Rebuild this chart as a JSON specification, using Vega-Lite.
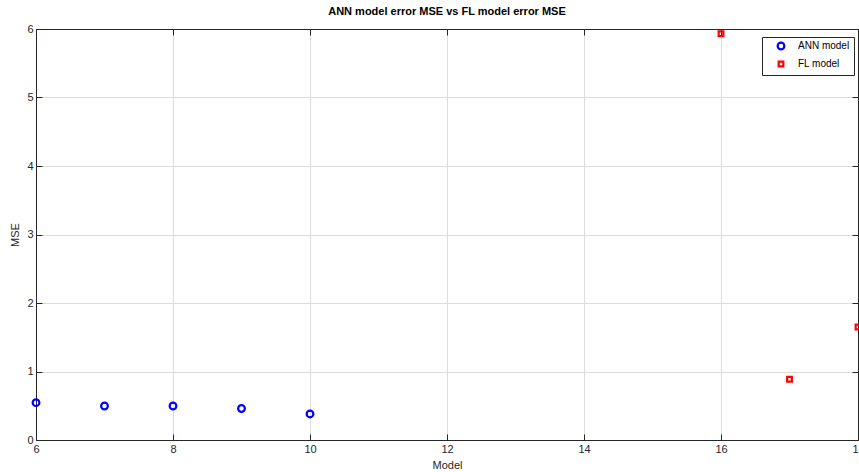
{
  "$schema": "https://vega.github.io/schema/vega-lite/v6.json",
  "width": 822,
  "height": 411,
  "autosize": {"type": "none"},
  "padding": {"left": 36, "top": 29, "right": 1, "bottom": 32},
  "background": "white",
  "config": {
    "font": "Liberation Sans",
    "view": {"stroke": "#262626", "strokeWidth": 1}
  },
  "title": {
    "text": "ANN model error MSE vs FL model error MSE",
    "fontSize": 11,
    "fontWeight": "bold",
    "color": "#000000",
    "offset": 6,
    "anchor": "middle"
  },
  "data": {
    "values": [
      {"model": 6, "mse": 0.545, "series": "ANN model"},
      {"model": 7, "mse": 0.496, "series": "ANN model"},
      {"model": 8, "mse": 0.496, "series": "ANN model"},
      {"model": 9, "mse": 0.46, "series": "ANN model"},
      {"model": 10, "mse": 0.38, "series": "ANN model"},
      {"model": 16, "mse": 5.93, "series": "FL model"},
      {"model": 17, "mse": 0.886, "series": "FL model"},
      {"model": 18, "mse": 1.65, "series": "FL model"}
    ]
  },
  "resolve": {"axis": {"x": "independent", "y": "independent"}},
  "layer": [
    {
      "mark": {"type": "point", "opacity": 0},
      "encoding": {
        "x": {
          "field": "model",
          "type": "quantitative",
          "scale": {"domain": [6, 18], "nice": false, "zero": false},
          "axis": {
            "orient": "top",
            "values": [6, 8, 10, 12, 14, 16, 18],
            "grid": false,
            "labels": false,
            "title": null,
            "domainColor": "#262626",
            "tickColor": "#262626",
            "tickSize": -6
          }
        },
        "y": {
          "field": "mse",
          "type": "quantitative",
          "scale": {"domain": [0, 6], "nice": false},
          "axis": {
            "orient": "right",
            "values": [0, 1, 2, 3, 4, 5, 6],
            "grid": false,
            "labels": false,
            "title": null,
            "domainColor": "#262626",
            "tickColor": "#262626",
            "tickSize": -6
          }
        }
      }
    },
    {
      "mark": {"type": "point", "filled": false, "strokeWidth": 2.2, "clip": false, "opacity": 1},
      "encoding": {
        "x": {
          "field": "model",
          "type": "quantitative",
          "title": "Model",
          "scale": {"domain": [6, 18], "nice": false, "zero": false},
          "axis": {
            "values": [6, 8, 10, 12, 14, 16, 18],
            "grid": true,
            "gridColor": "#dcdcdc",
            "gridWidth": 1,
            "domainColor": "#262626",
            "tickColor": "#262626",
            "tickSize": -6,
            "labelPadding": 9,
            "labelFontSize": 11,
            "labelColor": "#262626",
            "titleFontSize": 11,
            "titleFontWeight": "normal",
            "titleColor": "#262626",
            "titlePadding": 5,
            "labelFlush": false
          }
        },
        "y": {
          "field": "mse",
          "type": "quantitative",
          "title": "MSE",
          "scale": {"domain": [0, 6], "nice": false},
          "axis": {
            "values": [0, 1, 2, 3, 4, 5, 6],
            "grid": true,
            "gridColor": "#dcdcdc",
            "gridWidth": 1,
            "domainColor": "#262626",
            "tickColor": "#262626",
            "tickSize": -6,
            "labelPadding": 9,
            "labelFontSize": 11,
            "labelColor": "#262626",
            "titleFontSize": 11,
            "titleFontWeight": "normal",
            "titleColor": "#262626",
            "titlePadding": 6,
            "labelFlush": false
          }
        },
        "color": {
          "field": "series",
          "type": "nominal",
          "scale": {"domain": ["ANN model", "FL model"], "range": ["#0000ff", "#ff0000"]},
          "legend": {
            "title": null,
            "orient": "none",
            "legendX": 726,
            "legendY": 8,
            "strokeColor": "#262626",
            "fillColor": "white",
            "padding": 4,
            "symbolOffset": 10,
            "labelOffset": 12,
            "labelFontSize": 10,
            "labelColor": "#000000",
            "symbolStrokeWidth": 2.2,
            "rowPadding": 3
          }
        },
        "shape": {
          "field": "series",
          "type": "nominal",
          "scale": {"domain": ["ANN model", "FL model"], "range": ["circle", "square"]},
          "legend": null
        },
        "size": {
          "field": "series",
          "type": "nominal",
          "scale": {"domain": ["ANN model", "FL model"], "range": [45, 22]},
          "legend": null
        }
      }
    }
  ]
}
